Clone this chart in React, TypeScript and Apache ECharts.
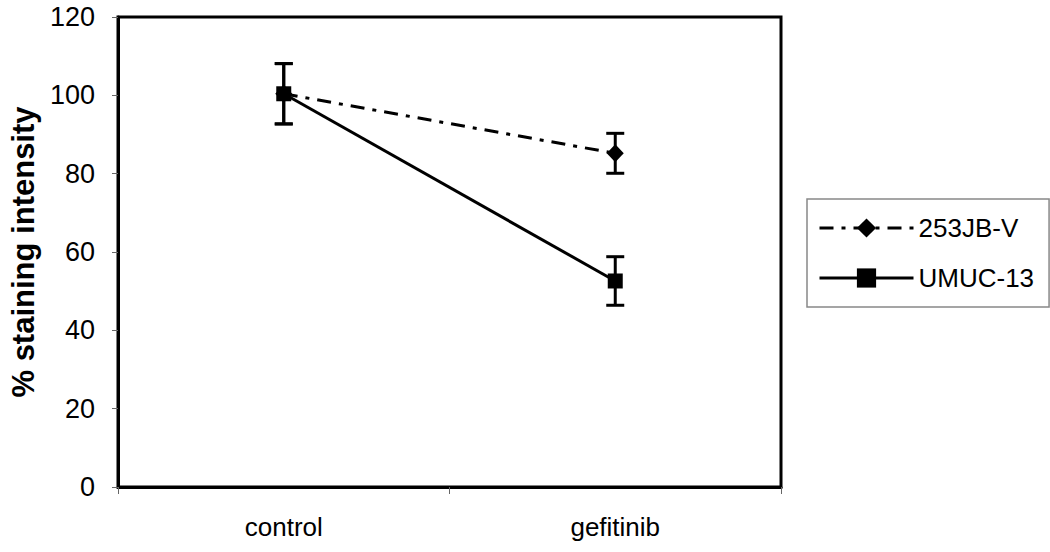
import React, { useEffect, useRef } from "react";
import * as echarts from "echarts";

const categories = ["control", "gefitinib"];
const seriesNames = ["253JB-V", "UMUC-13"];
const jbMeans = [100.4, 85.2];
const jbErr = [7.7, 5.1];
const umucMeans = [100.4, 52.6];
const umucErr = [7.7, 6.2];
const yTicks = [0, 20, 40, 60, 80, 100, 120];

const FONT = "'Liberation Sans', Arial, Helvetica, sans-serif";

function errData(means: number[], errs: number[]) {
  return means.map((m, i) => [i, m - errs[i], m + errs[i]]);
}

function errorSeries(name: string, means: number[], errs: number[]) {
  return {
    type: "custom",
    name: name + "-err",
    z: 5,
    renderItem: (params: any, api: any) => {
      const x = api.value(0);
      const lo = api.coord([x, api.value(1)]);
      const hi = api.coord([x, api.value(2)]);
      const cap = 9;
      const style = { stroke: "#000", lineWidth: 3 };
      return {
        type: "group",
        children: [
          { type: "line", shape: { x1: lo[0], y1: lo[1], x2: hi[0], y2: hi[1] }, style },
          { type: "line", shape: { x1: lo[0] - cap, y1: lo[1], x2: lo[0] + cap, y2: lo[1] }, style },
          { type: "line", shape: { x1: hi[0] - cap, y1: hi[1], x2: hi[0] + cap, y2: hi[1] }, style },
        ],
      };
    },
    encode: { x: 0, y: [1, 2] },
    data: errData(means, errs),
    silent: true,
  };
}

export default function App() {
  const ref = useRef<HTMLDivElement>(null);
  useEffect(() => {
    if (!ref.current) return;
    const chart = echarts.init(ref.current, null, { renderer: "svg" });
    chart.setOption({
      animation: false,
      backgroundColor: "#fff",
      textStyle: { fontFamily: FONT },
      grid: {
        left: 115,
        right: 269,
        top: 17,
        bottom: 65,
        show: true,
        borderColor: "#000",
        borderWidth: 3,
        backgroundColor: "#fff",
      },
      legend: {
        orient: "vertical",
        left: 807,
        top: 199,
        data: seriesNames,
        itemWidth: 94,
        itemHeight: 24,
        itemGap: 20,
        padding: [14, 15, 14, 11],
        borderColor: "#888",
        borderWidth: 1.5,
        backgroundColor: "#fff",
        lineStyle: { width: 3 },
        textStyle: { fontSize: 26, lineHeight: 30, color: "#000", fontFamily: FONT },
      },
      xAxis: {
        type: "category",
        data: categories,
        boundaryGap: true,
        axisLine: { lineStyle: { color: "#000", width: 3 } },
        axisTick: { show: true, length: 7, lineStyle: { color: "#666", width: 1 } },
        axisLabel: { fontSize: 26, color: "#000", margin: 27, fontFamily: FONT },
        splitLine: { show: false },
      },
      yAxis: {
        type: "value",
        min: yTicks[0],
        max: yTicks[yTicks.length - 1],
        interval: 20,
        name: "% staining intensity",
        nameLocation: "middle",
        nameGap: 79,
        nameTextStyle: { fontSize: 31, fontWeight: "bold", color: "#000", fontFamily: FONT },
        axisLine: { show: true, lineStyle: { color: "#000", width: 3 } },
        axisTick: { show: true, length: 6, lineStyle: { color: "#666", width: 1 } },
        axisLabel: { fontSize: 27, color: "#000", margin: 23, fontFamily: FONT },
        splitLine: { show: false },
      },
      series: [
        {
          name: seriesNames[0],
          type: "line",
          data: jbMeans,
          symbol: "diamond",
          symbolSize: [17, 18],
          itemStyle: { color: "#000" },
          lineStyle: { color: "#000", width: 3, type: [14, 8, 4, 8] },
          z: 3,
        },
        {
          name: seriesNames[1],
          type: "line",
          data: umucMeans,
          symbol: "rect",
          symbolSize: 15,
          itemStyle: { color: "#000" },
          lineStyle: { color: "#000", width: 3, type: "solid" },
          z: 4,
        },
        errorSeries(seriesNames[0], jbMeans, jbErr),
        errorSeries(seriesNames[1], umucMeans, umucErr),
      ],
    });
    return () => chart.dispose();
  }, []);
  return <div ref={ref} style={{ width: 1050, height: 552, position: "absolute", left: 0, top: 0 }} />;
}
